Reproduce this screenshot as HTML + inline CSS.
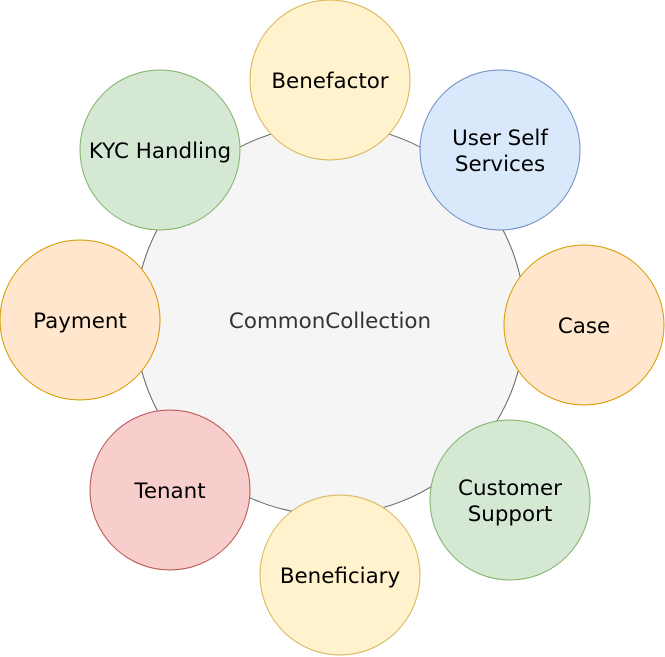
<!DOCTYPE html>
<html><head><meta charset="utf-8"><style>body{margin:0;background:#fff}svg{display:block}</style></head>
<body>
<svg width="665" height="657" viewBox="0 0 665 657" xmlns="http://www.w3.org/2000/svg" font-family="DejaVu Sans, Liberation Sans, sans-serif" font-size="21.4" text-anchor="middle">
<circle cx="330" cy="320" r="195" fill="#f5f5f5" stroke="#666666"/>
<text x="330" y="328" fill="#333333">CommonCollection</text>
<circle cx="330" cy="80" r="80" fill="#fff2cc" stroke="#d6b656"/>
<text x="330" y="88">Benefactor</text>
<circle cx="500" cy="150" r="80" fill="#dae8fc" stroke="#6c8ebf"/>
<text x="500" y="145">User Self</text><text x="500" y="171">Services</text>
<circle cx="584" cy="325" r="80" fill="#ffe6cc" stroke="#d79b00"/>
<text x="584" y="333">Case</text>
<circle cx="510" cy="500" r="80" fill="#d5e8d4" stroke="#82b366"/>
<text x="510" y="495">Customer</text><text x="510" y="521">Support</text>
<circle cx="340" cy="575" r="80" fill="#fff2cc" stroke="#d6b656"/>
<text x="340" y="583">Beneficiary</text>
<circle cx="170" cy="490" r="80" fill="#f8cecc" stroke="#b85450"/>
<text x="170" y="498">Tenant</text>
<circle cx="80" cy="320" r="80" fill="#ffe6cc" stroke="#d79b00"/>
<text x="80" y="328">Payment</text>
<circle cx="160" cy="150" r="80" fill="#d5e8d4" stroke="#82b366"/>
<text x="160" y="158">KYC Handling</text>
</svg>
</body></html>
